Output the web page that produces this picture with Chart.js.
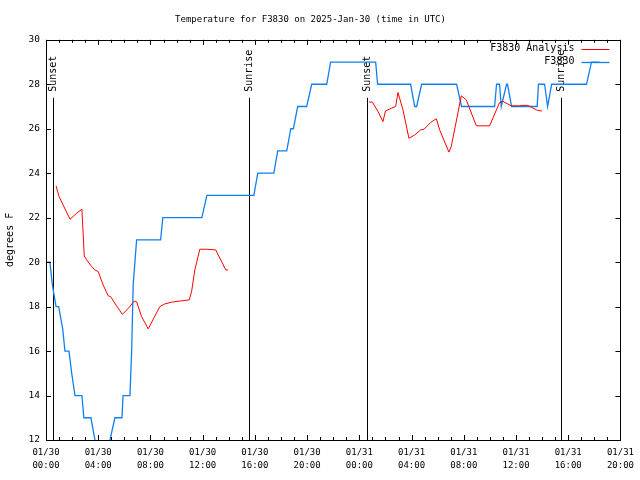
<!DOCTYPE html>
<html>
<head>
<meta charset="utf-8">
<script src="https://cdn.jsdelivr.net/npm/chart.js@4.4.1/dist/chart.umd.min.js"></script>
<style>
  html, body { margin: 0; padding: 0; background: #fff; }
  #wrap { width: 640px; height: 480px; }
</style>
</head>
<body>
<div id="wrap"><canvas id="myChart" width="640" height="480"></canvas></div>
<script>
// hours since 01/30 00:00 UTC
const obsHours = [0.08, 0.3, 0.48, 0.77, 0.97, 1.28, 1.45, 1.76, 1.97, 2.22, 2.75, 2.9, 3.44, 3.75, 4.05, 4.5, 4.9, 5.28, 5.82, 5.9, 6.43,
    6.56, 6.68, 6.81, 6.94, 8.78, 8.95, 11.94, 12.32, 15.92, 16.22, 17.45, 17.75, 18.44, 18.75, 18.95, 19.28, 19.97, 20.35, 21.5,
    21.8, 25.25, 25.4, 27.93, 28.24, 28.39, 28.77, 31.45, 31.83, 34.36, 34.51, 34.74, 34.87, 35.28, 35.35, 35.66, 37.62, 37.72,
    38.19, 38.42, 38.73, 41.4, 41.78, 42.4];
const obsTemps = [20, 20, 19, 18, 18, 17, 16, 16, 15, 14, 14, 13, 13, 12, 11, 11, 12, 13, 13, 14, 14,
    16, 19, 20, 21, 21, 22, 22, 23, 23, 24, 24, 25, 25, 26, 26, 27, 27, 28, 28,
    29, 29, 28, 28, 27, 27, 28, 28, 27, 27, 28, 28, 27, 28, 28, 27, 27, 28,
    28, 27, 28, 28, 29, 29];

const anaHours = [0.77, 1.0, 1.84, 2.35, 2.75, 2.93, 3.11, 3.5, 3.75, 4.0, 4.38, 4.77, 4.95, 5.36, 5.85, 6.3, 6.76, 6.94, 7.32, 7.83,
    8.72, 9.1, 9.62, 10.25, 10.97, 11.15, 11.4, 11.78, 12.3, 13.0, 13.77, 13.95,
    19.0,
    24.74, 25.0, 25.43, 25.81, 26.0, 26.45, 26.78, 26.96, 27.34, 27.8, 28.24, 28.7, 28.95, 29.46, 29.9, 30.15, 30.86, 31.04,
    31.81, 32.19, 32.96, 33.98, 34.74, 35.0, 35.63, 36.27, 36.4, 36.9, 37.16, 37.67, 38.0];
const anaTemps = [23.43, 22.95, 21.93, 22.2, 22.38, 20.28, 20.1, 19.8, 19.65, 19.57, 18.97, 18.48, 18.45, 18.07, 17.65, 17.92, 18.25, 18.22, 17.55, 17.0,
    18.0, 18.12, 18.2, 18.25, 18.3, 18.67, 19.65, 20.58, 20.58, 20.55, 19.65, 19.65,
    null,
    27.2, 27.2, 26.77, 26.32, 26.8, 26.92, 27.0, 27.63, 26.85, 25.57, 25.72, 25.95, 25.98, 26.28, 26.45, 25.95, 24.95, 25.2,
    27.48, 27.3, 26.13, 26.13, 27.18, 27.23, 27.03, 27.03, 27.05, 27.05, 26.97, 26.82, 26.8];

const xTickDates = ['01/30', '01/30', '01/30', '01/30', '01/30', '01/30', '01/31', '01/31', '01/31', '01/31', '01/31', '01/31'];
const xTickTimes = ['00:00', '04:00', '08:00', '12:00', '16:00', '20:00', '00:00', '04:00', '08:00', '12:00', '16:00', '20:00'];

const sunHours = [0.54, 15.53, 24.56, 39.48];
const sunLabels = ['Sunset', 'Sunrise', 'Sunset', 'Sunrise'];

const ANA_COLOR = '#ff0000';
const OBS_COLOR = '#1080f0';
const MONO = "'DejaVu Sans Mono', 'Liberation Mono', monospace";

const gnuplotLook = {
    id: 'gnuplotLook',
    beforeDatasetsDraw(chart) {
        const { ctx, chartArea, scales } = chart;
        ctx.save();
        ctx.strokeStyle = '#000';
        ctx.lineWidth = 1;
        ctx.fillStyle = '#000';
        ctx.font = '10px ' + MONO;
        sunHours.forEach((h, i) => {
            const x = Math.round(scales.x.getPixelForValue(h)) + 0.5;
            ctx.beginPath();
            ctx.moveTo(x, chartArea.top + 58);
            ctx.lineTo(x, chartArea.bottom);
            ctx.stroke();
            ctx.save();
            ctx.translate(x, chartArea.top + 52);
            ctx.rotate(-Math.PI / 2);
            ctx.textAlign = 'left';
            ctx.textBaseline = 'middle';
            ctx.fillText(sunLabels[i], 0, 0);
            ctx.restore();
        });
        ctx.restore();
    },
    afterDatasetsDraw(chart) {
        const { ctx, chartArea, scales } = chart;
        const { left, right, top, bottom } = chartArea;
        ctx.save();
        ctx.strokeStyle = '#000';
        ctx.lineWidth = 1;
        ctx.strokeRect(Math.round(left) + 0.5, Math.round(top) + 0.5, Math.round(right - left), Math.round(bottom - top));

        ctx.beginPath();
        for (let h = 0; h <= 44; h++) {
            const x = Math.round(scales.x.getPixelForValue(h)) + 0.5;
            const len = h % 4 === 0 ? 5 : 3;
            ctx.moveTo(x, bottom); ctx.lineTo(x, bottom - len);
            ctx.moveTo(x, top); ctx.lineTo(x, top + len);
        }
        for (let t = 12; t <= 30; t += 2) {
            const y = Math.round(scales.y.getPixelForValue(t)) + 0.5;
            ctx.moveTo(left, y); ctx.lineTo(left + 5, y);
            ctx.moveTo(right, y); ctx.lineTo(right - 5, y);
        }
        ctx.stroke();

        // legend
        const rows = [
            { text: 'F3830 Analysis', color: ANA_COLOR, width: 1 },
            { text: 'F3830', color: OBS_COLOR, width: 1.3 },
        ];
        ctx.font = '10px ' + MONO;
        ctx.textAlign = 'right';
        ctx.textBaseline = 'middle';
        rows.forEach((r, i) => {
            const y = top + 9 + i * 13;
            ctx.fillStyle = '#000';
            ctx.fillText(r.text, right - 46, y);
            ctx.strokeStyle = r.color;
            ctx.lineWidth = r.width;
            ctx.beginPath();
            ctx.moveTo(right - 39, Math.round(y) + 0.5);
            ctx.lineTo(right - 11, Math.round(y) + 0.5);
            ctx.stroke();
        });
        ctx.restore();
    }
};

new Chart(document.getElementById('myChart'), {
    type: 'line',
    data: {
        datasets: [
            {
                label: 'F3830 Analysis',
                data: anaHours.map((h, i) => ({ x: h, y: anaTemps[i] })),
                borderColor: ANA_COLOR,
                borderWidth: 1,
                pointRadius: 0,
                tension: 0,
                spanGaps: false,
            },
            {
                label: 'F3830',
                data: obsHours.map((h, i) => ({ x: h, y: obsTemps[i] })),
                borderColor: OBS_COLOR,
                borderWidth: 1.3,
                pointRadius: 0,
                tension: 0,
            },
        ],
    },
    options: {
        responsive: false,
        animation: false,
        events: [],
        layout: { padding: { top: 1, right: 19, bottom: 0, left: 0 } },
        plugins: {
            legend: { display: false },
            tooltip: { enabled: false },
            title: {
                display: true,
                text: 'Temperature for F3830 on 2025-Jan-30 (time in UTC)',
                color: '#000',
                font: { family: MONO, size: 9, weight: 'normal', lineHeight: 1.2 },
                padding: { top: 13, bottom: 15 },
            },
        },
        scales: {
            x: {
                type: 'linear',
                min: 0,
                max: 44,
                grid: { display: false, drawTicks: false },
                border: { display: false },
                ticks: {
                    stepSize: 4,
                    autoSkip: false,
                    maxRotation: 0,
                    padding: 6,
                    color: '#000',
                    font: { family: MONO, size: 9, lineHeight: '13.3px' },
                    callback: (v) => [xTickDates[v / 4], xTickTimes[v / 4]],
                },
                afterFit(scale) { scale.height = 40; },
            },
            y: {
                min: 12,
                max: 30,
                grid: { display: false, drawTicks: false },
                border: { display: false },
                ticks: {
                    stepSize: 2,
                    padding: 6,
                    color: '#000',
                    font: { family: MONO, size: 9.5 },
                },
                title: {
                    display: true,
                    text: 'degrees F',
                    color: '#000',
                    font: { family: MONO, size: 10, lineHeight: 1.2 },
                    padding: { top: 4, bottom: 4 },
                },
                afterFit(scale) { scale.width = 46; },
            },
        },
    },
    plugins: [gnuplotLook],
});
</script>
</body>
</html>
